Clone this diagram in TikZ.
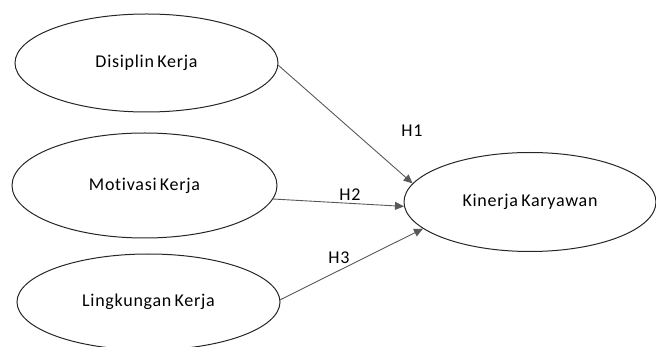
\documentclass[tikz,border=0pt]{standalone}
\usepackage{fontspec}
\setmainfont{Carlito}[LetterSpace=4,WordSpace=0.7,Ligatures=NoCommon]
\usepackage{tikz}
\usetikzlibrary{arrows.meta,shapes.geometric}

\begin{document}
\begin{tikzpicture}[
  x=1pt, y=-1pt,
  var/.style={draw=black!85, ellipse, line width=1pt, inner sep=0pt,
              minimum width=263pt, minimum height=98pt,
              font=\fontsize{18}{20}\selectfont},
  hlab/.style={font=\fontsize{18}{20}\selectfont},
  arr/.style={-{Triangle[length=9pt, width=8pt]}, draw=black!65, line width=0.9pt}
]
\useasboundingbox (0,0) rectangle (656,347);
\clip (0,0) rectangle (656,347);

% Independent variables
\node[var] (dis) at (146.5, 63) {Disiplin Kerja};
\node[var, minimum width=265pt, minimum height=105pt] (mot) at (144.5, 185.5) {Motivasi Kerja};
\node[var, minimum height=96pt] (ling) at (148.5, 302) {Lingkungan Kerja};

% Dependent variable
\node[var, minimum width=252pt, minimum height=99pt] (kin) at (530, 202) {Kinerja Karyawan};

% Arrows
\draw[arr] (dis.-1) -- (kin.171);
\draw[arr] (mot.-6) -- (kin.182);
\draw[arr] (ling.1) -- (kin.194);

% Labels
\node[hlab] (h1) at (412, 131) {H1};
\node[hlab] (h2) at (350, 195) {H2};
\node[hlab] (h3) at (339, 258) {H3};

\end{tikzpicture}
\end{document}
